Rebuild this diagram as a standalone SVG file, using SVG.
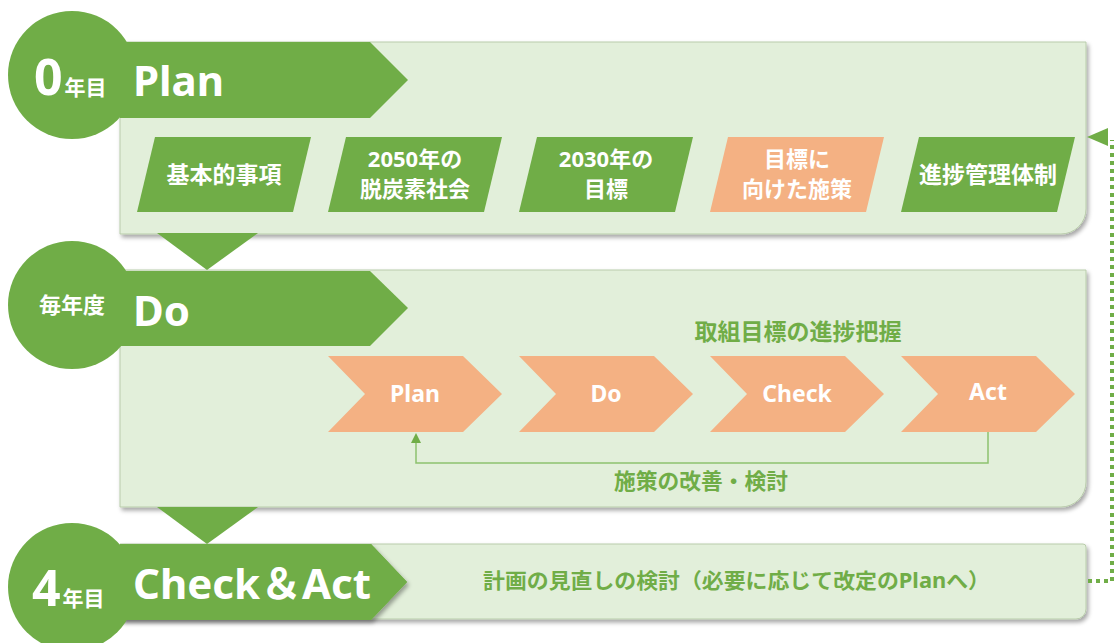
<svg xmlns="http://www.w3.org/2000/svg" width="1114" height="643" viewBox="0 0 1114 643">
<defs>
<filter id="sh" x="-5%" y="-10%" width="110%" height="130%">
<feDropShadow dx="2" dy="3" stdDeviation="2" flood-color="#000" flood-opacity="0.35"/>
</filter>
<style>
.panel{fill:#E2EFDA;stroke:#B9CCAB;stroke-width:1;filter:url(#sh)}
.hdr{fill:#70AD47}
.circ{fill:#70AD47}
.box{fill:#70AD47}
.obox{fill:#F4B183}
.t{font-family:"Noto Sans","Noto Sans CJK JP",sans-serif;font-weight:700}
.w{fill:#FFFFFF}
.g{fill:#70AD47}
.big{font-size:42px}
.bt{font-size:23px;text-anchor:middle}
.bt2{font-size:22px;text-anchor:middle}
.ct{font-size:23px;text-anchor:middle}
</style>
</defs>
<rect width="1114" height="643" fill="#FFFFFF"/>

<g id="plan-stage">
<path class="panel" d="M120,42 H1086 V209 A25,25 0 0 1 1061,234 H120 Z"/>
<circle class="circ" cx="72" cy="75" r="64"/>
<polygon class="hdr" points="120,42 370,42 408,80 370,118 120,118"/>
<text class="t w" x="34" y="95" font-size="50">0<tspan font-size="21" dx="2">年目</tspan></text>
<text class="t w big" x="133" y="96">Plan</text>
</g>

<g id="box-kihon">
<polygon class="box" points="155,137 311,137 293,212 137,212"/>
<text class="t w bt" x="224" y="183">基本的事項</text>
</g>
<g id="box-2050">
<polygon class="box" points="346,137 502,137 484,212 328,212"/>
<text class="t w bt2" x="415" y="167">2050年の</text>
<text class="t w bt2" x="415" y="197">脱炭素社会</text>
</g>
<g id="box-2030">
<polygon class="box" points="537,137 693,137 675,212 519,212"/>
<text class="t w bt2" x="606" y="167">2030年の</text>
<text class="t w bt2" x="606" y="197">目標</text>
</g>
<g id="box-shisaku">
<polygon class="obox" points="728,137 884,137 866,212 710,212"/>
<text class="t w bt2" x="797" y="167">目標に</text>
<text class="t w bt2" x="797" y="197">向けた施策</text>
</g>
<g id="box-shinchoku">
<polygon class="box" points="919,137 1075,137 1057,212 901,212"/>
<text class="t w bt" x="988" y="183">進捗管理体制</text>
</g>

<g id="do-stage">
<path class="panel" d="M120,270 H1086 V482 A25,25 0 0 1 1061,507 H120 Z"/>
<circle class="circ" cx="72" cy="305" r="64"/>
<polygon class="hdr" points="120,271 370,271 408,308 370,346 120,346"/>
<text class="t w" x="72" y="313" font-size="22" text-anchor="middle">毎年度</text>
<text class="t w big" x="133" y="326">Do</text>
<text class="t g" x="798" y="340" font-size="23" text-anchor="middle">取組目標の進捗把握</text>
<text class="t g" x="614" y="489" font-size="22" textLength="174" lengthAdjust="spacingAndGlyphs">施策の改善・検討</text>
</g>

<g id="pdca-plan">
<polygon class="obox" points="328,356 463,356 502,394 463,432 328,432 365,394"/>
<text class="t w ct" x="415" y="402">Plan</text>
</g>
<g id="pdca-do">
<polygon class="obox" points="519,356 654,356 693,394 654,432 519,432 556,394"/>
<text class="t w ct" x="606" y="402">Do</text>
</g>
<g id="pdca-check">
<polygon class="obox" points="710,356 845,356 884,394 845,432 710,432 747,394"/>
<text class="t w ct" x="797" y="402">Check</text>
</g>
<g id="pdca-act">
<polygon class="obox" points="901,356 1036,356 1075,394 1036,432 901,432 938,394"/>
<text class="t w ct" x="988" y="400">Act</text>
</g>

<g id="checkact-stage">
<path class="panel" d="M120,544 H1083 A3,3 0 0 1 1086,547 V609 A10,10 0 0 1 1076,619 H120 Z"/>
<polygon class="hdr" points="120,544 371,544 407,582 371,620 120,620" filter="url(#sh)"/>
<circle class="circ" cx="72" cy="587" r="64"/>
<polygon class="hdr" points="120,544 371,544 407,582 371,620 120,620"/>
<text class="t w" x="32" y="606" font-size="50">4<tspan font-size="21" dx="2">年目</tspan></text>
<text class="t w big" x="133" y="599">Check＆Act</text>
<text class="t g" x="483" y="588" font-size="21" textLength="507" lengthAdjust="spacingAndGlyphs">計画の見直しの検討（必要に応じて改定のPlanへ）</text>
</g>

<g id="connectors">
<polygon fill="#70AD47" points="157,233 258,233 207,270"/>
<polygon fill="#70AD47" points="157,507 258,507 207,544"/>
<path d="M988,432 V463 H416 V442" fill="none" stroke="#8DC26F" stroke-width="1.5"/>
<polygon fill="#70AD47" points="416,433 411,443 421,443"/>
<path d="M1088,581 H1112 V140" fill="none" stroke="#70AD47" stroke-width="4" stroke-dasharray="4 4"/>
<polygon fill="#70AD47" points="1087,137 1108,128 1108,146"/>
</g>
</svg>
